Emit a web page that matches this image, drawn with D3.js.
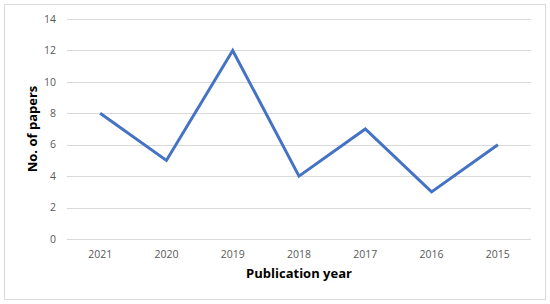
<!DOCTYPE html>
<html>
<head>
<meta charset="utf-8">
<script src="https://cdn.jsdelivr.net/npm/d3@7"></script>
<style>
body { margin: 0; background: #fff; }
text { font-family: "Open Sans", "Liberation Sans", sans-serif; }
</style>
</head>
<body>
<script>
// chart data
var years = ["2021", "2020", "2019", "2018", "2017", "2016", "2015"];
var papers = [8, 5, 12, 4, 7, 3, 6];
var yTicks = [0, 2, 4, 6, 8, 10, 12, 14];

var width = 550,
    height = 304;

var svg = d3.select("body")
    .append("svg")
    .attr("width", width)
    .attr("height", height);

// outer frame
svg.append("rect")
    .attr("x", 4.5).attr("y", 4.5)
    .attr("width", 541).attr("height", 295)
    .attr("fill", "#fff")
    .attr("stroke", "#d9d9d9");

var x = d3.scaleBand()
    .domain(years)
    .range([67, 531]);

var y = d3.scaleLinear()
    .domain([0, 14])
    .range([239, 19]);

// gridlines
svg.selectAll(".grid")
    .data(yTicks)
    .enter()
    .append("line")
    .attr("class", "grid")
    .attr("x1", 67).attr("x2", 531)
    .attr("y1", function(d){ return Math.round(y(d)) + 0.5; })
    .attr("y2", function(d){ return Math.round(y(d)) + 0.5; })
    .attr("stroke", "#d9d9d9")
    .attr("stroke-width", 1);

// y tick labels
svg.selectAll(".ylab")
    .data(yTicks)
    .enter()
    .append("text")
    .attr("x", 56)
    .attr("y", function(d){ return y(d); })
    .attr("dy", "0.35em")
    .attr("text-anchor", "end")
    .attr("font-size", 10.5)
    .attr("fill", "#595959")
    .text(function(d){ return d; });

// x tick labels
svg.selectAll(".xlab")
    .data(years)
    .enter()
    .append("text")
    .attr("x", function(d){ return x(d) + x.bandwidth() / 2; })
    .attr("y", 258)
    .attr("text-anchor", "middle")
    .attr("font-size", 10.5)
    .attr("fill", "#595959")
    .text(function(d){ return d; });

// line
var line = d3.line()
    .x(function(d, i){ return x(years[i]) + x.bandwidth() / 2; })
    .y(function(d){ return y(d); });

svg.append("path")
    .datum(papers)
    .attr("d", line)
    .attr("fill", "none")
    .attr("stroke", "#4472c4")
    .attr("stroke-width", 3)
    .attr("stroke-linejoin", "miter");

// axis titles
svg.append("text")
    .attr("x", 299)
    .attr("y", 278)
    .attr("text-anchor", "middle")
    .attr("font-size", 13)
    .attr("font-weight", "bold")
    .attr("fill", "#000")
    .text("Publication year");

svg.append("text")
    .attr("transform", "translate(37,129) rotate(-90)")
    .attr("text-anchor", "middle")
    .attr("font-size", 13)
    .attr("font-weight", "bold")
    .attr("fill", "#000")
    .text("No. of papers");
</script>
</body>
</html>
